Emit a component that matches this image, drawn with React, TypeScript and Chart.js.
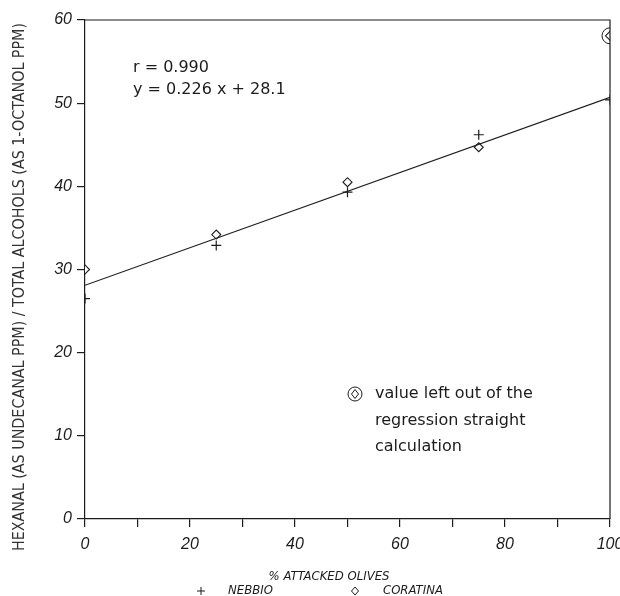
import React, { useEffect, useRef } from "react";
import { Chart, registerables } from "chart.js";

Chart.register(...registerables);

// ---- data ----
const xPercent = [0, 25, 50, 75, 100];
const nebbio = [26.5, 32.9, 39.3, 46.2, 50.4];
const coratina = [30.0, 34.2, 40.5, 44.7, 58.1];
const excludedX = [100];
const excludedY = [58.1];
const fitX = [0, 100];
const fitY = [28.1, 50.7];
const xTickLabels = [0, 20, 40, 60, 80, 100];
const yTickLabels = [0, 10, 20, 30, 40, 50, 60];
const statLines = ["r = 0.990", "y = 0.226 x + 28.1"];
const noteLines = ["value left out of the", "regression straight", "calculation"];
const yTitle = "HEXANAL (AS UNDECANAL PPM) / TOTAL ALCOHOLS (AS 1-OCTANOL PPM)";
const xTitle = "% ATTACKED OLIVES";
const seriesNames = ["NEBBIO", "CORATINA"];

const INK = "#1c1c1c";

export default function App() {
  const ref = useRef<HTMLCanvasElement | null>(null);

  useEffect(() => {
    if (!ref.current) return;

    const decor = {
      id: "decor",
      afterDraw(chart: any) {
        const ctx = chart.ctx as CanvasRenderingContext2D;
        const a = chart.chartArea;
        ctx.save();
        // frame top + right
        ctx.strokeStyle = INK;
        ctx.lineWidth = 1.2;
        ctx.beginPath();
        ctx.moveTo(a.left, a.top);
        ctx.lineTo(a.right, a.top);
        ctx.lineTo(a.right, a.bottom);
        ctx.stroke();

        ctx.fillStyle = "#333";
        // y axis title (rotated, horizontally fitted)
        ctx.save();
        ctx.font = '15px "DejaVu Sans Condensed", "DejaVu Sans", sans-serif';
        const w = ctx.measureText(yTitle).width;
        const target = 528;
        ctx.translate(20, 287);
        ctx.rotate(-Math.PI / 2);
        ctx.scale(target / w, 1);
        ctx.textAlign = "center";
        ctx.textBaseline = "middle";
        ctx.fillText(yTitle, 0, 0);
        ctx.restore();

        ctx.fillStyle = INK;
        // x axis title
        ctx.font = 'italic 13px "DejaVu Sans Condensed", "DejaVu Sans", sans-serif';
        ctx.textAlign = "center";
        ctx.textBaseline = "middle";
        ctx.fillText(xTitle, 329, 577);

        // legend
        ctx.textAlign = "left";
        ctx.fillText(seriesNames[0], 228, 591);
        ctx.fillText(seriesNames[1], 383, 591);
        ctx.lineWidth = 1;
        ctx.beginPath();
        ctx.moveTo(197, 591);
        ctx.lineTo(205, 591);
        ctx.moveTo(201, 587);
        ctx.lineTo(201, 595);
        ctx.stroke();
        ctx.beginPath();
        ctx.moveTo(355, 587);
        ctx.lineTo(358.5, 591);
        ctx.lineTo(355, 595);
        ctx.lineTo(351.5, 591);
        ctx.closePath();
        ctx.stroke();

        // regression stats
        ctx.font = '16px "DejaVu Sans", sans-serif';
        ctx.textBaseline = "middle";
        ctx.fillText(statLines[0], 133, 68);
        ctx.fillText(statLines[1], 133, 90);

        // note
        noteLines.forEach((t, i) => ctx.fillText(t, 375, 394 + i * 26.5));
        ctx.lineWidth = 1;
        ctx.beginPath();
        ctx.arc(355, 394, 7, 0, Math.PI * 2);
        ctx.stroke();
        ctx.beginPath();
        ctx.moveTo(355, 389.5);
        ctx.lineTo(358.5, 394);
        ctx.lineTo(355, 398.5);
        ctx.lineTo(351.5, 394);
        ctx.closePath();
        ctx.stroke();
        ctx.restore();
      },
    };

    const chart = new Chart(ref.current, {
      type: "scatter",
      data: {
        datasets: [
          {
            label: "fit",
            type: "line" as any,
            data: fitX.map((x, i) => ({ x, y: fitY[i] })),
            borderColor: INK,
            borderWidth: 1.2,
            pointRadius: 0,
            showLine: true,
            fill: false,
          } as any,
          {
            label: seriesNames[0],
            data: xPercent.map((x, i) => ({ x, y: nebbio[i] })),
            pointStyle: "cross",
            pointRadius: 5,
            borderColor: INK,
            borderWidth: 1.2,
            backgroundColor: "transparent",
          },
          {
            label: seriesNames[1],
            data: xPercent.map((x, i) => ({ x, y: coratina[i] })),
            pointStyle: "rectRot",
            pointRadius: 4.5,
            borderColor: INK,
            borderWidth: 1.1,
            backgroundColor: "#fff",
          },
          {
            label: "excluded",
            data: excludedX.map((x, i) => ({ x, y: excludedY[i] })),
            pointStyle: "circle",
            pointRadius: 8,
            borderColor: INK,
            borderWidth: 1,
            backgroundColor: "transparent",
          },
        ],
      },
      options: {
        responsive: false,
        animation: false,
        devicePixelRatio: 1,
        layout: { padding: { top: 20, right: 10, left: 0, bottom: 0 } },
        plugins: { legend: { display: false }, tooltip: { enabled: false } },
        scales: {
          x: {
            type: "linear",
            min: 0,
            max: 100,
            afterFit: (s: any) => {
              s.height = 77;
              s.paddingLeft = 0;
              s.paddingRight = 0;
            },
            ticks: {
              stepSize: 10,
              autoSkip: false,
              maxRotation: 0,
              padding: 8,
              color: INK,
              font: { family: '"Liberation Sans", sans-serif', size: 16, style: "italic" },
              callback: (v: any) => (xTickLabels.includes(Number(v)) ? String(v) : ""),
            },
            grid: { drawOnChartArea: false, drawTicks: true, tickLength: 8, color: INK, lineWidth: 1.2 },
            border: { color: INK, width: 1.2 },
          },
          y: {
            type: "linear",
            min: 0,
            max: 60,
            afterFit: (s: any) => {
              s.width = 85;
              s.paddingTop = 0;
              s.paddingBottom = 0;
            },
            ticks: {
              stepSize: 10,
              autoSkip: false,
              padding: 5,
              color: INK,
              font: { family: '"Liberation Sans", sans-serif', size: 16, style: "italic" },
              callback: (v: any) => (yTickLabels.includes(Number(v)) ? String(v) : ""),
            },
            grid: { drawOnChartArea: false, drawTicks: true, tickLength: 8, color: INK, lineWidth: 1.2 },
            border: { color: INK, width: 1.2 },
          },
        },
      },
      plugins: [decor],
    });

    return () => chart.destroy();
  }, []);

  return (
    <div style={{ position: "absolute", left: 0, top: 0, width: 620, height: 596, background: "#fff" }}>
      <canvas ref={ref} width={620} height={596} style={{ display: "block" }} />
    </div>
  );
}
